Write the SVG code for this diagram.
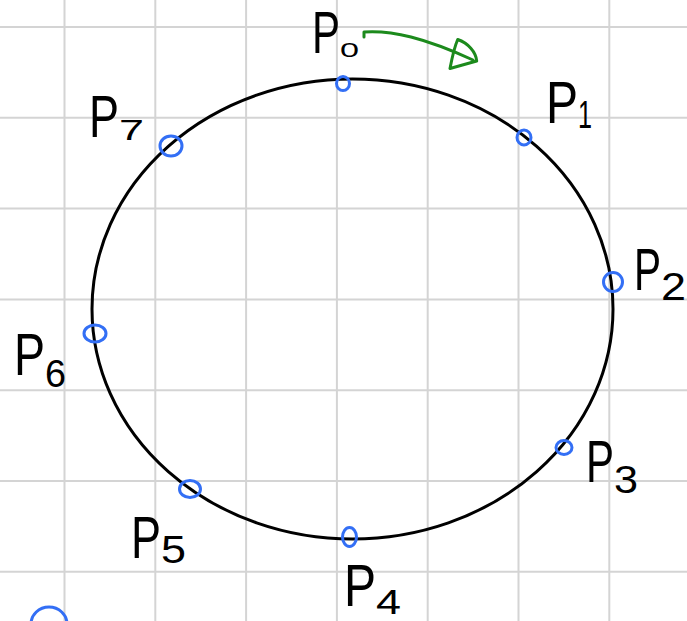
<svg xmlns="http://www.w3.org/2000/svg" width="687" height="621" viewBox="0 0 687 621">
<style>
.grid line{stroke:#d4d4d4;stroke-width:2}
.ring{fill:none;stroke:#000;stroke-width:3}
.pt{fill:none;stroke:#336ff5;stroke-width:3}
.lbl{font-family:"Liberation Sans",Arial,sans-serif;fill:#000}
.lbl .p{font-size:60px}
.lbl .d{font-size:38px}
.arrow{fill:none;stroke:#1c8a1c;stroke-width:3;stroke-linecap:round;stroke-linejoin:round}
</style>
<rect width="687" height="621" fill="#fff"/>
<g class="grid" id="grid">
<line x1="64.5" y1="0" x2="64.5" y2="621"/>
<line x1="155.3" y1="0" x2="155.3" y2="621"/>
<line x1="246.1" y1="0" x2="246.1" y2="621"/>
<line x1="336.9" y1="0" x2="336.9" y2="621"/>
<line x1="427.7" y1="0" x2="427.7" y2="621"/>
<line x1="518.5" y1="0" x2="518.5" y2="621"/>
<line x1="609.3" y1="0" x2="609.3" y2="621"/>
<line x1="0" y1="27" x2="687" y2="27"/>
<line x1="0" y1="117.8" x2="687" y2="117.8"/>
<line x1="0" y1="208.6" x2="687" y2="208.6"/>
<line x1="0" y1="299.4" x2="687" y2="299.4"/>
<line x1="0" y1="390.2" x2="687" y2="390.2"/>
<line x1="0" y1="481" x2="687" y2="481"/>
<line x1="0" y1="571.8" x2="687" y2="571.8"/>
</g>
<ellipse id="ring" class="ring" cx="352.5" cy="309" rx="260.5" ry="230"/>
<g id="connectors">
<g id="direction-arrow" class="arrow">
<path d="M364,37 L364,32 C392,30 425,38 473,60"/>
<path d="M457.7,39.5 C468,43 476,52 476.7,61 L450,68.5 C452,58 454,48 457.7,39.5 Z"/>
</g>
</g>
<g id="P0"><ellipse class="pt" cx="343" cy="83.5" rx="6.5" ry="7"/>
<text class="lbl"><tspan class="p" x="312" y="53" textLength="28" lengthAdjust="spacingAndGlyphs">P</tspan><tspan class="d" x="340" y="57" style="font-size:20px" textLength="19" lengthAdjust="spacingAndGlyphs">0</tspan></text></g>
<g id="P1"><ellipse class="pt" cx="524" cy="137.5" rx="7" ry="7.5"/>
<text class="lbl"><tspan class="p" x="546" y="123" textLength="32" lengthAdjust="spacingAndGlyphs">P</tspan><tspan class="d" x="578" y="128" textLength="14" lengthAdjust="spacingAndGlyphs">1</tspan></text></g>
<g id="P2"><ellipse class="pt" cx="613" cy="282" rx="9.5" ry="9.5"/>
<text class="lbl"><tspan class="p" x="634" y="290" textLength="27" lengthAdjust="spacingAndGlyphs">P</tspan><tspan class="d" x="661" y="300" textLength="25" lengthAdjust="spacingAndGlyphs">2</tspan></text></g>
<g id="P3"><ellipse class="pt" cx="564" cy="447.5" rx="8" ry="7"/>
<text class="lbl"><tspan class="p" x="586" y="482" textLength="28" lengthAdjust="spacingAndGlyphs">P</tspan><tspan class="d" x="614" y="493" textLength="24" lengthAdjust="spacingAndGlyphs">3</tspan></text></g>
<g id="P4"><ellipse class="pt" cx="349.5" cy="537" rx="7" ry="9.5"/>
<text class="lbl"><tspan class="p" x="344" y="606" textLength="32" lengthAdjust="spacingAndGlyphs">P</tspan><tspan class="d" x="376" y="614" style="font-size:35px" textLength="25" lengthAdjust="spacingAndGlyphs">4</tspan></text></g>
<g id="P5"><ellipse class="pt" cx="190" cy="489" rx="10.5" ry="8.5"/>
<text class="lbl"><tspan class="p" x="131" y="558" textLength="30" lengthAdjust="spacingAndGlyphs">P</tspan><tspan class="d" x="161" y="563" textLength="25" lengthAdjust="spacingAndGlyphs">5</tspan></text></g>
<g id="P6"><ellipse class="pt" cx="95" cy="333.5" rx="11" ry="8.5"/>
<text class="lbl"><tspan class="p" x="14" y="375" textLength="31" lengthAdjust="spacingAndGlyphs">P</tspan><tspan class="d" x="45" y="387" textLength="21" lengthAdjust="spacingAndGlyphs">6</tspan></text></g>
<g id="P7"><ellipse class="pt" cx="171" cy="146" rx="11" ry="10"/>
<text class="lbl"><tspan class="p" x="89" y="137" textLength="30" lengthAdjust="spacingAndGlyphs">P</tspan><tspan class="d" x="119" y="140" style="font-size:30px" textLength="25" lengthAdjust="spacingAndGlyphs">7</tspan></text></g>
<ellipse id="extra-mark" class="pt" cx="49" cy="624" rx="18" ry="17"/>
</svg>
